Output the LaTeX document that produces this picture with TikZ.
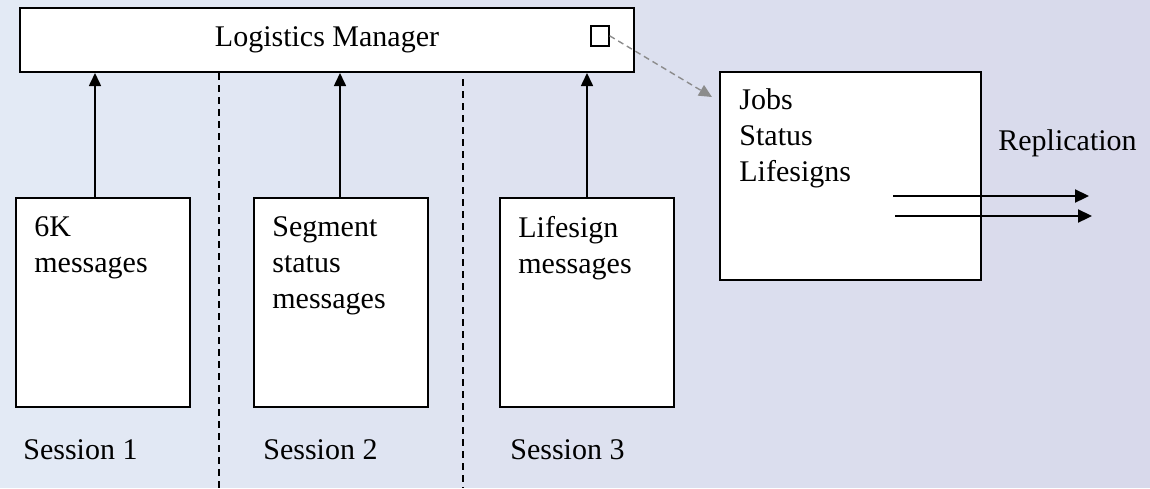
\documentclass[tikz,border=0pt]{standalone}
\usepackage{fontspec}
\setmainfont{Liberation Serif}
\usetikzlibrary{calc,arrows.meta,positioning}
\definecolor{bgleft}{HTML}{E3EAF5}
\definecolor{bgright}{HTML}{D8D9EB}
\definecolor{linkgray}{HTML}{8C8C8C}

\begin{document}
\begin{tikzpicture}[x=0.5pt,y=-0.5pt,>={Triangle[length=6.5pt,width=6pt]},
    box/.style={draw,line width=1pt,fill=white,inner sep=0pt,anchor=north west},
    txt/.style={font=\fontsize{15pt}{18pt}\selectfont,inner sep=0pt,align=left},
    sep/.style={line width=0.6pt,dash pattern=on 3.5pt off 2.5pt},
    up/.style={->,line width=0.8pt}]
              \useasboundingbox (0,0) rectangle (1150,488);
              % background
              \foreach \i in {0,...,22} {
                \pgfmathtruncatemacro\p{100-\i*100/22}
                \fill[bgleft!\p!bgright] (\i*50,0) rectangle (\i*50+51,488);
              }
              % boxes
              \node[box,txt,minimum width=307pt,minimum height=32pt] (lm) at (19,7) {Logistics Manager};
              \node[box,minimum width=9pt,minimum height=10pt,line width=0.8pt] (sq) at (590,25) {};
              \node[box,minimum width=87pt,minimum height=104.5pt] (s1) at (15,197) {};
              \node[box,minimum width=87pt,minimum height=104.5pt] (s2) at (253,197) {};
              \node[box,minimum width=87pt,minimum height=104.5pt] (s3) at (499,197) {};
              \node[box,minimum width=130.5pt,minimum height=104pt] (st) at (719,71) {};
              % texts
              \node[txt,anchor=north west] (t1) at ($(s1.north west)+(19,19)$) {6K\\messages};
              \node[txt,anchor=north west] (t2) at ($(s2.north west)+(19,19)$) {Segment\\status\\messages};
              \node[txt,anchor=north west] (t3) at ($(s3.north west)+(19,19)$) {Lifesign\\messages};
              \node[txt,anchor=north west] (t4) at ($(st.north west)+(20,17)$) {Jobs\\Status\\Lifesigns};
              \node[txt,anchor=base west] (l1) at ($(s1.south west)+(8,51)$) {Session 1};
              \node[txt,anchor=base west] (l2) at ($(s2.south west)+(10,51)$) {Session 2};
              \node[txt,anchor=base west] (l3) at ($(s3.south west)+(11,51)$) {Session 3};
              \node[txt,anchor=base west] (rep) at (998,150) {Replication};
              % session arrows
              \draw[up] ([xshift=-4pt]s1.north) -- ([xshift=-4pt]s1.north |- lm.south);
              \draw[up] ([xshift=-0.5pt]s2.north) -- ([xshift=-0.5pt]s2.north |- lm.south);
              \draw[up] (s3.north) -- (s3.north |- lm.south);
              % separators
              \coordinate (d1) at (219,488);
              \coordinate (d2) at (463,488);
              \draw[sep] (d1 |- lm.south) -- (d1);
              \draw[sep] ([yshift=-3pt]d2 |- lm.south) -- (d2);
              % link to store
              \coordinate (stin) at (712,97);
              \draw[->,linkgray,line width=0.7pt,dash pattern=on 3pt off 2pt] (sq.east) -- (stin);
              % replication
              \coordinate (r1) at (893,196);
              \coordinate (r1e) at (1089,196);
              \coordinate (r2) at (895,216);
              \coordinate (r2e) at (1092,216);
              \draw[-{Triangle[length=7pt,width=6.5pt]},line width=1.1pt] (r1) -- (r1e);
              \draw[-{Triangle[length=7pt,width=6.5pt]},line width=1.1pt] (r2) -- (r2e);
\end{tikzpicture}
\end{document}
